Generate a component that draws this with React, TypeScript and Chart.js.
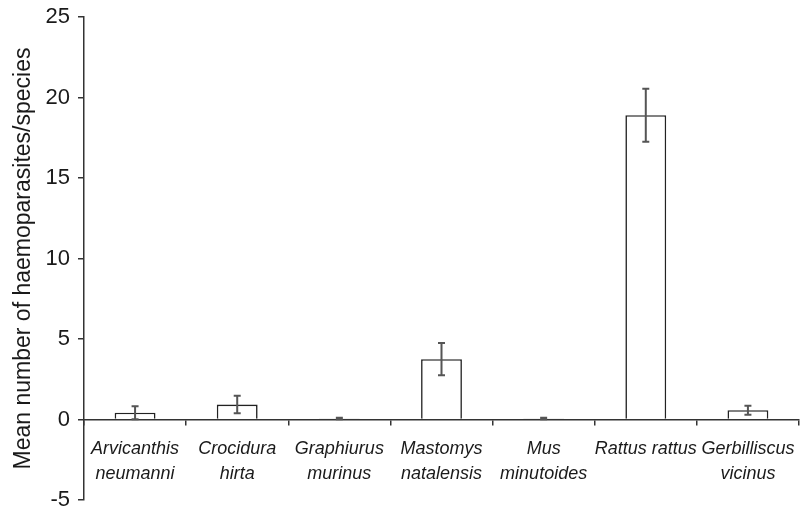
import React, { useEffect, useRef } from "react";
import { Chart, registerables } from "chart.js";

Chart.register(...registerables);

const categories: string[][] = [
  ["Arvicanthis", "neumanni"],
  ["Crocidura", "hirta"],
  ["Graphiurus", "murinus"],
  ["Mastomys", "natalensis"],
  ["Mus", "minutoides"],
  ["Rattus rattus"],
  ["Gerbilliscus", "vicinus"],
];
const means: number[] = [0.42, 0.93, 0.06, 3.75, 0.06, 18.9, 0.58];
const errors: number[] = [0.41, 0.54, 0.05, 1.0, 0.05, 1.65, 0.28];
const yTicks: number[] = [-5, 0, 5, 10, 15, 20, 25];
const yTitle = "Mean number of haemoparasites/species";

const errorBarPlugin = {
  id: "errorBars",
  afterDatasetsDraw(chart: any) {
    const meta = chart.getDatasetMeta(0);
    const y = chart.scales.y;
    const ctx = chart.ctx;
    ctx.save();
    ctx.strokeStyle = "#555";
    ctx.lineWidth = 2;
    meta.data.forEach((bar: any, i: number) => {
      const x = bar.x;
      const top = y.getPixelForValue(means[i] + errors[i]);
      const bot = y.getPixelForValue(Math.max(0, means[i] - errors[i]));
      const cap = 3.5;
      ctx.beginPath();
      ctx.moveTo(x, top);
      ctx.lineTo(x, bot);
      ctx.moveTo(x - cap, top);
      ctx.lineTo(x + cap, top);
      ctx.moveTo(x - cap, bot);
      ctx.lineTo(x + cap, bot);
      ctx.stroke();
    });
    ctx.restore();
  },
};

export default function App() {
  const ref = useRef<HTMLCanvasElement | null>(null);
  useEffect(() => {
    document.body.style.margin = "0";
    if (!ref.current) return;
    const chart = new Chart(ref.current, {
      type: "bar",
      data: {
        labels: categories,
        datasets: [
          {
            data: means,
            backgroundColor: "#ffffff",
            borderColor: "#222",
            borderWidth: 1.6,
            barPercentage: 0.4,
            categoryPercentage: 1,
          },
        ],
      },
      options: {
        animation: false,
        responsive: false,
        maintainAspectRatio: false,
        layout: { padding: { top: 17, right: 1, bottom: 10, left: 0 } },
        plugins: { legend: { display: false }, tooltip: { enabled: false } },
        scales: {
          x: {
            type: "category",
            position: { y: 0 } as any,
            offset: true,
            afterFit: (s: any) => {
              s.paddingLeft = 0;
              s.paddingRight = 0;
            },
            grid: {
              offset: true,
              drawOnChartArea: false,
              drawTicks: true,
              tickLength: 5,
              color: "#333",
              lineWidth: 1.5,
            },
            border: { display: true, color: "#333", width: 1.5 },
            ticks: {
              color: "#1a1a1a",
              font: { family: "'Liberation Sans', Arial, sans-serif", size: 18, style: "italic", lineHeight: 1.4 },
              padding: 12,
              maxRotation: 0,
              autoSkip: false,
            },
          },
          y: {
            min: -5,
            max: 25,
            afterBuildTicks: (s: any) => {
              s.ticks = yTicks.map((v) => ({ value: v }));
            },
            afterFit: (s: any) => {
              s.width = 84;
              s.paddingTop = 0;
              s.paddingBottom = 0;
            },
            grid: {
              drawOnChartArea: false,
              drawTicks: true,
              tickLength: 6,
              color: "#333",
              lineWidth: 1.5,
            },
            border: { display: true, color: "#333", width: 1.5 },
            ticks: {
              color: "#1a1a1a",
              font: { family: "'Liberation Sans', Arial, sans-serif", size: 22 },
              padding: 8,
            },
            title: {
              display: true,
              text: yTitle,
              color: "#1a1a1a",
              font: { family: "'Liberation Sans', Arial, sans-serif", size: 23 },
              padding: { top: 10, bottom: 0 },
            },
          },
        },
      },
      plugins: [errorBarPlugin],
    });
    return () => chart.destroy();
  }, []);
  return <canvas ref={ref} width={800} height={510} style={{ display: "block" }} />;
}
